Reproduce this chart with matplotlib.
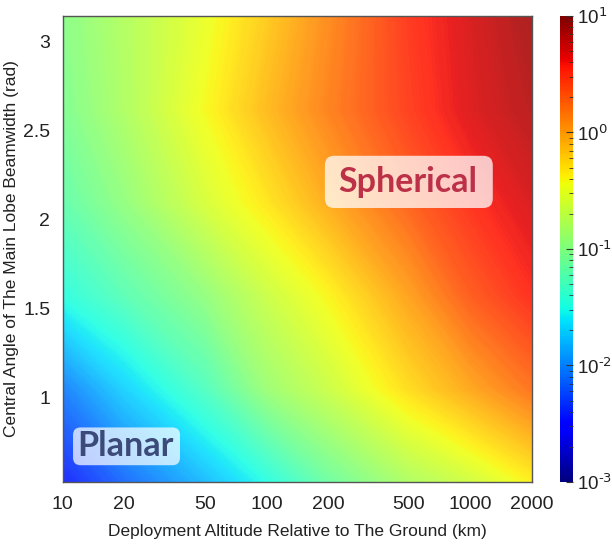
import numpy as np
import matplotlib
matplotlib.use('Agg')
import matplotlib.pyplot as plt
from matplotlib.colors import LogNorm, ListedColormap
from matplotlib.cm import ScalarMappable
from matplotlib.patches import FancyBboxPatch

plt.rcParams['font.family'] = ['Liberation Sans', 'DejaVu Sans']
plt.rcParams['mathtext.default'] = 'regular'

# grid nodes
altitude_km = [10, 20, 50, 100, 200, 500, 1000, 2000]
angle_rad = [np.pi / 6, np.pi / 3, np.pi / 2, 2 * np.pi / 3, 5 * np.pi / 6, np.pi]

# log10 of the plotted quantity, one list per angle (rows), one value per altitude
log_val_30deg = [-2.45, -2.15, -1.80, -1.50, -1.15, -0.80, -0.62, -0.38]
log_val_60deg = [-2.05, -1.70, -1.30, -0.90, -0.65, -0.28, -0.03, 0.22]
log_val_90deg = [-1.48, -1.25, -0.95, -0.65, -0.40, 0.00, 0.33, 0.55]
log_val_120deg = [-1.20, -0.95, -0.58, -0.33, -0.05, 0.30, 0.53, 0.70]
log_val_150deg = [-1.05, -0.80, -0.42, -0.12, 0.15, 0.47, 0.68, 0.82]
log_val_180deg = [-1.00, -0.78, -0.48, -0.20, 0.10, 0.50, 0.70, 0.88]

x_ticks = [10, 20, 50, 100, 200, 500, 1000, 2000]
y_ticks = [1, 1.5, 2, 2.5, 3]
cbar_exps = [-3, -2, -1, 0, 1]

Z = np.array([log_val_30deg, log_val_60deg, log_val_90deg,
              log_val_120deg, log_val_150deg, log_val_180deg])
X = np.log10(altitude_km)
Y = np.array(angle_rad)

# the surface looks slightly washed out compared with the colorbar
jet = plt.get_cmap('jet')
faded = jet(np.linspace(0, 1, 256))
faded[:, :3] = 0.87 * faded[:, :3] + 0.13
faded_jet = ListedColormap(faded)

fig = plt.figure(figsize=(6.12, 5.44), dpi=100)
ax = fig.add_axes([0.1025, 0.114, 0.7663, 0.8566])

ax.contourf(X, Y, Z, levels=np.linspace(-3, 1, 321), cmap=faded_jet,
            vmin=-3, vmax=1, antialiased=False)

ax.set_xlim(X[0], X[-1])
ax.set_ylim(Y[0], Y[-1])
ax.set_xticks(np.log10(x_ticks))
ax.set_xticklabels([str(t) for t in x_ticks])
ax.set_yticks(y_ticks)
ax.set_yticklabels(['1', '1.5', '2', '2.5', '3'])
ax.tick_params(length=0, labelsize=14, colors='#222222')
ax.tick_params(axis='x', pad=10)
ax.tick_params(axis='y', pad=9)
for s in ax.spines.values():
    s.set_color('#555555')
    s.set_linewidth(1.0)

ax.set_xlabel('Deployment Altitude Relative to The Ground (km)', fontsize=12.5,
              color='#222222', labelpad=8)
ax.set_ylabel('Central Angle of The Main Lobe Beamwidth (rad)', fontsize=12.5,
              color='#222222')
ax.yaxis.set_label_coords(-0.094, 0.5)

# labelled regions
ax.add_patch(FancyBboxPatch((0.022, 0.036), 0.228, 0.081,
                            boxstyle='round,pad=0,rounding_size=0.016',
                            transform=ax.transAxes, fc='white', alpha=0.72,
                            ec='none', zorder=3))
ax.text(0.134, 0.077, 'Planar', transform=ax.transAxes, ha='center', va='center',
        fontfamily='Lato', fontweight='bold', fontsize=24.5, color='#3b4a79', zorder=4)

ax.add_patch(FancyBboxPatch((0.559, 0.588), 0.358, 0.112,
                            boxstyle='round,pad=0,rounding_size=0.02',
                            transform=ax.transAxes, fc='white', alpha=0.75,
                            ec='none', zorder=3))
ax.text(0.735, 0.644, 'Spherical', transform=ax.transAxes, ha='center', va='center',
        fontfamily='Lato', fontweight='bold', fontsize=24.5, color='#bc3148', zorder=4)

# colorbar
cax = fig.add_axes([0.915, 0.114, 0.0212, 0.8566])
sm = ScalarMappable(norm=LogNorm(1e-3, 10), cmap=jet)
cb = fig.colorbar(sm, cax=cax)
cb.outline.set_linewidth(0)
cb.set_ticks([10.0 ** e for e in cbar_exps])
cb.set_ticklabels([r'$10^{\text{%d}}$' % e for e in cbar_exps])
cax.tick_params(which='major', direction='in', length=5, width=0.8, pad=3,
                color='#333333', labelsize=13.5, labelcolor='#222222')
cax.tick_params(which='minor', direction='in', length=3, width=0.6, color='#333333')

plt.savefig('out.png', dpi=100)
